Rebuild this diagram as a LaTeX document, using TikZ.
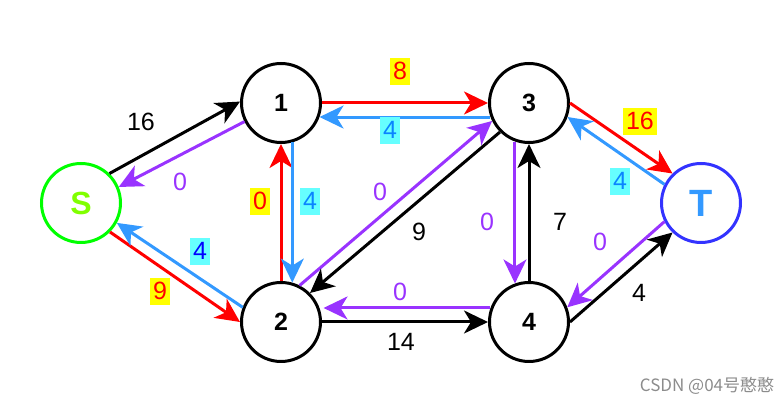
\documentclass[tikz,border=0pt]{standalone}
\usepackage{fontspec}
\setmainfont{Liberation Sans}
\newfontfamily\cjkfont{Noto Sans CJK SC}
\usepackage{xcolor}
\usepackage{tikz}
\usetikzlibrary{arrows.meta}
\definecolor{flowred}{HTML}{FF0000}
\definecolor{flowblue}{HTML}{3399FF}
\definecolor{backtext}{HTML}{0A84FF}
\definecolor{flowpurple}{HTML}{9933FF}
\definecolor{hlyellow}{HTML}{FFFF00}
\definecolor{hlcyan}{HTML}{66FFFF}
\definecolor{srcgreen}{HTML}{00FF00}
\definecolor{srctext}{HTML}{80FF00}
\definecolor{sinkblue}{HTML}{3333FF}
\tikzstyle{vertex} = [circle, draw, line width=1.5pt, minimum size=39.5pt,
    inner sep=0pt, font=\fontsize{12.5}{15}\selectfont\bfseries]
\tikzstyle{line} = [draw, line width=1.5pt,
    -{Stealth[length=12pt, width=11.5pt, inset=3.5pt]}]
\tikzstyle{capnum} = [inner sep=0pt, font=\fontsize{12.5}{15}\selectfont]
\tikzstyle{residual} = [capnum, text=flowpurple]
\tikzstyle{capbox} = [capnum, inner xsep=1.5pt, inner ysep=1pt,
    text height=9.5pt, text depth=2pt]
\tikzstyle{flowcap} = [capbox, fill=hlyellow, text=flowred]
\tikzstyle{backcap} = [capbox, fill=hlcyan, text=backtext]

\begin{document}
\begin{tikzpicture}[x=0.5pt, y=-0.5pt]
        \useasboundingbox (0,0) rectangle (784,406);
        % Vertices
        \node [vertex, draw=srcgreen, text=srctext,
            font=\fontsize{16}{18}\selectfont\bfseries] (src) at (81,203) {S};
        \node [vertex] (n1) at (281,103) {1};
        \node [vertex] (n3) at (529,103) {3};
        \node [vertex, draw=sinkblue, text=flowblue,
            font=\fontsize{19}{21}\selectfont\bfseries] (sink) at (701,203) {T};
        \node [vertex] (n2) at (281,322) {2};
        \node [vertex] (n4) at (529,322) {4};

        % Edges
        \path [line] (src.46) -- (n1.178);
        \path [line, color=flowpurple] (n1.207) -- (src.23);
        \path [line, color=flowred] (src.-45) -- (n2.180);
        \path [line, color=flowblue] (n2.159) -- (src.-29);
        \path [line, color=flowred] (n1.0) -- (n3.180);
        \path [line, color=flowblue] (n3.200) -- (n1.-20);
        \path [line, color=flowred] (n2.90) -- (n1.270);
        \path [line, color=flowblue] (n1.-74) -- (n2.74);
        \path [line, color=flowpurple] (n2.63) -- (n3.206);
        \path [line] (n3.225) -- (n2.45);
        \path [line, color=flowpurple] (n3.-110) -- (n4.110);
        \path [line] (n4.90) -- (n3.270);
        \path [line, color=flowred] (n3.0) -- (sink.134);
        \path [line, color=flowblue] (sink.153) -- (n3.-20);
        \path [line, color=flowpurple] (sink.207) -- (n4.21);
        \path [line] (n4.0) -- (sink.226);
        \path [line, color=flowpurple, shorten >=2pt] (n4.160) -- (n2.20);
        \path [line] (n2.0) -- (n4.180);

        % Capacities
        \node [capnum] (c16a) at (141,122) {16};
        \node [residual] (c0a) at (180,182) {0};
        \node [flowcap] (c9a) at (160,292) {9};
        \node [backcap, text=blue] (c4a) at (200,252) {4};
        \node [flowcap] (c8) at (400,72) {8};
        \node [backcap] (c4b) at (390,131) {4};
        \node [flowcap] (c0b) at (260,202) {0};
        \node [backcap] (c4c) at (310,202) {4};
        \node [residual] (c0c) at (380,192) {0};
        \node [capnum] (c9b) at (419,232) {9};
        \node [residual] (c0d) at (487,222) {0};
        \node [capnum] (c7) at (560,222) {7};
        \node [flowcap] (c16b) at (640,122) {16};
        \node [backcap] (c4d) at (620,182) {4};
        \node [residual] (c0e) at (600,242) {0};
        \node [capnum] (c4e) at (639,293) {4};
        \node [residual] (c0f) at (400,292) {0};
        \node [capnum] (c14) at (401,342) {14};

        % Watermark
        \node [text=black!45, font=\cjkfont\fontsize{8.5}{10}\selectfont]
            (mark) at (707,386) {CSDN @04号憨憨};
    \end{tikzpicture}
\end{document}
